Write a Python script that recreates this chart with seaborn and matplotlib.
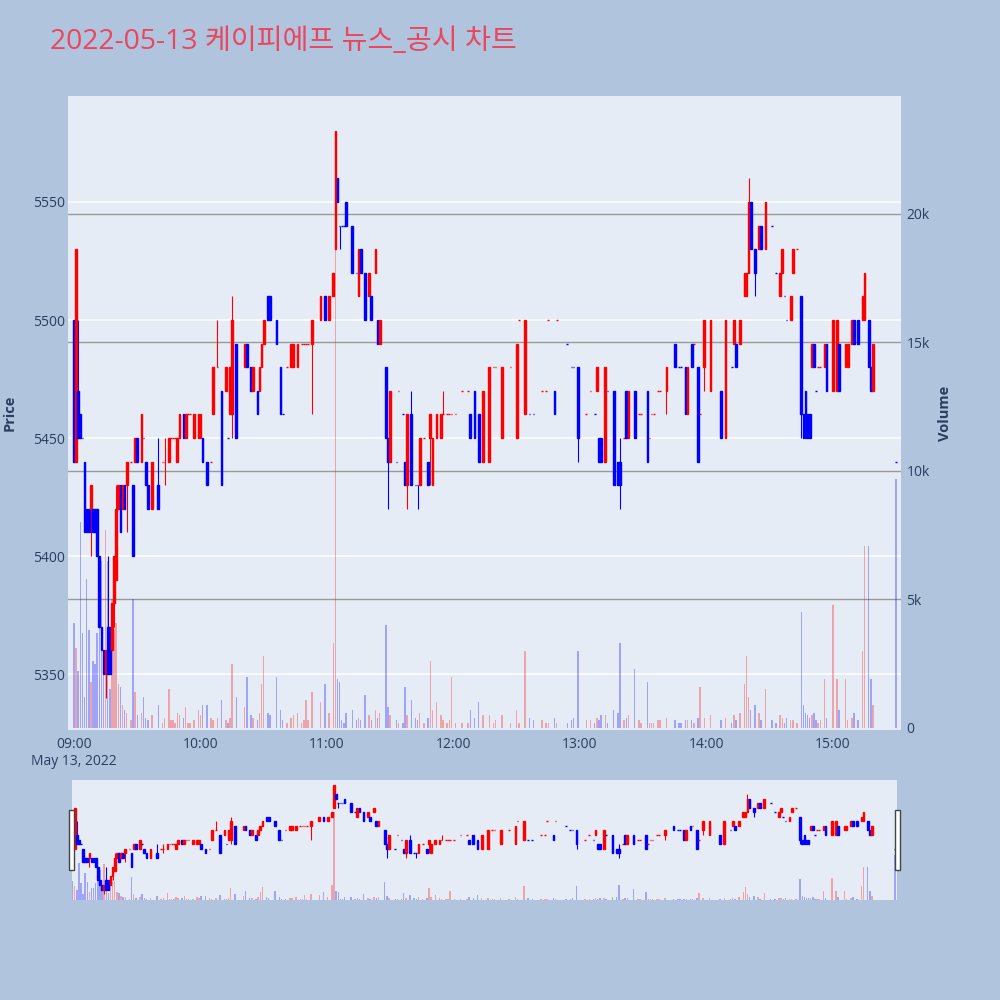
# 케이피에프 2022-05-13 1분봉 차트 (가격 + 거래량 + 레인지 슬라이더)

import matplotlib
matplotlib.use("Agg")
import matplotlib.pyplot as plt
import pandas as pd
import seaborn as sns
from matplotlib.patches import Rectangle
from matplotlib.ticker import FuncFormatter


# 09:00 기준 경과 분
minutes = [
    0, 1, 2, 3, 4, 5, 6, 7, 8, 9,
    10, 11, 12, 13, 14, 15, 16, 17, 18, 19,
    20, 21, 22, 23, 24, 25, 27, 28, 29, 30,
    32, 33, 34, 35, 37, 40, 42, 43, 45, 46,
    47, 48, 49, 50, 52, 53, 54, 55, 57, 59,
    60, 61, 63, 65, 66, 68, 70, 72, 73, 74,
    75, 77, 81, 82, 84, 85, 87, 88, 89, 90,
    92, 93, 96, 98, 99, 101, 103, 104, 106, 108,
    109, 110, 111, 113, 117, 119, 121, 123, 124, 125,
    126, 127, 128, 129, 132, 134, 135, 136, 138, 140,
    141, 143, 144, 145, 148, 149, 150, 153, 154, 156,
    157, 158, 160, 162, 163, 164, 166, 168, 169, 170,
    172, 174, 175, 177, 178, 179, 181, 184, 187, 188,
    190, 192, 194, 197, 199, 200, 203, 207, 210, 211,
    214, 216, 218, 222, 224, 225, 228, 229, 234, 236,
    237, 239, 243, 245, 247, 248, 249, 250, 252, 253,
    256, 258, 259, 261, 262, 263, 266, 268, 269, 272,
    273, 274, 275, 277, 278, 281, 285, 287, 288, 290,
    291, 293, 294, 296, 297, 299, 302, 307, 309, 312,
    313, 314, 316, 318, 319, 320, 321, 323, 325, 326,
    328, 331, 333, 335, 336, 337, 338, 340, 341, 343,
    345, 346, 347, 348, 349, 350, 351, 352, 353, 354,
    356, 357, 360, 362, 363, 366, 367, 369, 370, 372,
    374, 375, 377, 378, 379, 390,
]

opens = [
    5500, 5440, 5470, 5460, 5450, 5440, 5420, 5420, 5420, 5420,
    5420, 5420, 5400, 5370, 5360, 5350, 5370, 5370, 5360, 5380,
    5390, 5420, 5430, 5420, 5430, 5430, 5440, 5430, 5440, 5450,
    5440, 5450, 5440, 5430, 5420, 5430, 5440, 5440, 5440, 5450,
    5450, 5450, 5440, 5450, 5460, 5450, 5460, 5460, 5450, 5450,
    5450, 5450, 5440, 5440, 5460, 5480, 5470, 5470, 5450, 5460,
    5460, 5490, 5480, 5490, 5480, 5470, 5470, 5470, 5480, 5490,
    5510, 5510, 5500, 5480, 5460, 5480, 5480, 5480, 5480, 5490,
    5490, 5490, 5490, 5490, 5500, 5510, 5500, 5510, 5530, 5560,
    5540, 5540, 5540, 5550, 5540, 5520, 5510, 5530, 5520, 5510,
    5510, 5520, 5500, 5490, 5480, 5450, 5440, 5440, 5470, 5460,
    5440, 5430, 5460, 5430, 5430, 5430, 5450, 5440, 5450, 5430,
    5450, 5450, 5460, 5460, 5460, 5460, 5460, 5470, 5470, 5460,
    5470, 5460, 5440, 5440, 5480, 5480, 5450, 5480, 5450, 5500,
    5460, 5460, 5460, 5470, 5470, 5500, 5470, 5500, 5490, 5480,
    5480, 5480, 5460, 5470, 5460, 5470, 5450, 5450, 5440, 5470,
    5470, 5440, 5440, 5450, 5470, 5450, 5470, 5460, 5460, 5470,
    5450, 5460, 5460, 5470, 5470, 5470, 5490, 5480, 5480, 5480,
    5460, 5490, 5490, 5480, 5460, 5480, 5470, 5470, 5450, 5480,
    5490, 5490, 5490, 5510, 5510, 5520, 5550, 5530, 5530, 5540,
    5530, 5540, 5520, 5510, 5520, 5510, 5500, 5500, 5520, 5530,
    5510, 5460, 5470, 5460, 5460, 5480, 5490, 5470, 5480, 5480,
    5480, 5490, 5470, 5470, 5490, 5480, 5480, 5490, 5500, 5500,
    5500, 5500, 5500, 5480, 5470, 5440,
]

highs = [
    5500, 5530, 5500, 5460, 5450, 5440, 5420, 5420, 5430, 5420,
    5420, 5420, 5400, 5370, 5360, 5360, 5400, 5370, 5380, 5400,
    5430, 5430, 5430, 5430, 5430, 5440, 5440, 5430, 5450, 5450,
    5460, 5450, 5440, 5430, 5440, 5450, 5440, 5450, 5450, 5450,
    5450, 5450, 5450, 5460, 5460, 5460, 5460, 5460, 5460, 5460,
    5460, 5450, 5440, 5440, 5480, 5500, 5470, 5480, 5450, 5480,
    5510, 5490, 5490, 5490, 5480, 5480, 5470, 5480, 5490, 5500,
    5510, 5510, 5500, 5480, 5460, 5480, 5490, 5490, 5490, 5490,
    5490, 5490, 5490, 5500, 5510, 5510, 5510, 5520, 5580, 5560,
    5540, 5540, 5540, 5550, 5540, 5520, 5530, 5530, 5520, 5520,
    5510, 5530, 5500, 5500, 5480, 5450, 5470, 5440, 5470, 5460,
    5440, 5460, 5470, 5430, 5430, 5450, 5450, 5440, 5460, 5450,
    5460, 5460, 5470, 5460, 5460, 5460, 5460, 5470, 5470, 5460,
    5470, 5460, 5470, 5480, 5480, 5480, 5480, 5480, 5490, 5500,
    5500, 5460, 5460, 5470, 5470, 5500, 5470, 5500, 5490, 5480,
    5480, 5480, 5460, 5470, 5460, 5480, 5450, 5450, 5480, 5470,
    5470, 5440, 5450, 5450, 5470, 5470, 5470, 5460, 5460, 5470,
    5450, 5460, 5460, 5470, 5470, 5480, 5490, 5480, 5480, 5480,
    5480, 5490, 5490, 5480, 5460, 5500, 5500, 5470, 5500, 5480,
    5500, 5490, 5500, 5520, 5520, 5560, 5550, 5530, 5540, 5540,
    5550, 5540, 5520, 5520, 5530, 5510, 5500, 5510, 5530, 5530,
    5510, 5460, 5470, 5460, 5460, 5490, 5490, 5470, 5480, 5480,
    5490, 5490, 5500, 5500, 5490, 5490, 5490, 5500, 5500, 5500,
    5510, 5520, 5500, 5480, 5490, 5440,
]

lows = [
    5440, 5440, 5450, 5450, 5450, 5410, 5410, 5410, 5400, 5410,
    5410, 5400, 5370, 5360, 5350, 5340, 5350, 5350, 5360, 5370,
    5390, 5420, 5410, 5420, 5420, 5410, 5440, 5400, 5440, 5440,
    5440, 5450, 5430, 5420, 5420, 5420, 5440, 5430, 5440, 5450,
    5450, 5450, 5440, 5450, 5450, 5450, 5460, 5460, 5450, 5450,
    5450, 5440, 5430, 5440, 5460, 5480, 5430, 5470, 5450, 5460,
    5450, 5450, 5480, 5480, 5470, 5470, 5460, 5470, 5480, 5490,
    5500, 5500, 5490, 5460, 5460, 5480, 5480, 5480, 5480, 5490,
    5490, 5490, 5490, 5460, 5500, 5500, 5500, 5510, 5530, 5550,
    5530, 5540, 5540, 5540, 5520, 5520, 5510, 5520, 5500, 5510,
    5500, 5520, 5490, 5490, 5450, 5420, 5440, 5440, 5470, 5460,
    5430, 5420, 5430, 5430, 5420, 5430, 5450, 5430, 5430, 5430,
    5450, 5450, 5460, 5460, 5460, 5460, 5460, 5470, 5470, 5450,
    5450, 5440, 5440, 5440, 5480, 5480, 5450, 5480, 5450, 5500,
    5460, 5460, 5460, 5470, 5470, 5500, 5460, 5500, 5490, 5480,
    5480, 5440, 5460, 5470, 5460, 5470, 5440, 5440, 5440, 5470,
    5430, 5430, 5420, 5450, 5450, 5450, 5450, 5460, 5460, 5440,
    5450, 5460, 5460, 5470, 5470, 5460, 5480, 5480, 5480, 5460,
    5460, 5480, 5490, 5440, 5460, 5470, 5470, 5450, 5450, 5480,
    5490, 5480, 5490, 5510, 5510, 5520, 5530, 5510, 5530, 5530,
    5530, 5540, 5520, 5510, 5520, 5510, 5500, 5500, 5520, 5530,
    5450, 5450, 5450, 5450, 5450, 5480, 5480, 5470, 5480, 5480,
    5480, 5470, 5470, 5470, 5470, 5480, 5480, 5490, 5490, 5490,
    5500, 5500, 5480, 5470, 5470, 5440,
]

closes = [
    5440, 5530, 5450, 5450, 5450, 5410, 5410, 5410, 5430, 5410,
    5410, 5400, 5370, 5360, 5350, 5360, 5350, 5350, 5380, 5400,
    5420, 5430, 5410, 5430, 5420, 5440, 5440, 5400, 5450, 5440,
    5460, 5450, 5430, 5420, 5440, 5420, 5440, 5440, 5450, 5450,
    5450, 5450, 5450, 5460, 5450, 5460, 5460, 5460, 5460, 5460,
    5460, 5440, 5430, 5440, 5480, 5480, 5430, 5480, 5450, 5480,
    5500, 5450, 5490, 5480, 5470, 5480, 5460, 5480, 5490, 5500,
    5500, 5500, 5490, 5460, 5460, 5480, 5490, 5490, 5490, 5490,
    5490, 5490, 5490, 5500, 5510, 5500, 5510, 5520, 5580, 5550,
    5540, 5540, 5540, 5540, 5520, 5520, 5530, 5520, 5500, 5520,
    5500, 5530, 5490, 5500, 5450, 5440, 5470, 5440, 5470, 5460,
    5430, 5460, 5430, 5430, 5430, 5450, 5450, 5430, 5460, 5450,
    5460, 5460, 5460, 5460, 5460, 5460, 5460, 5470, 5470, 5450,
    5450, 5440, 5470, 5480, 5480, 5480, 5480, 5480, 5490, 5500,
    5500, 5460, 5460, 5470, 5470, 5500, 5460, 5500, 5490, 5480,
    5480, 5450, 5460, 5470, 5460, 5480, 5440, 5440, 5480, 5470,
    5430, 5430, 5430, 5450, 5450, 5470, 5450, 5460, 5460, 5440,
    5450, 5460, 5460, 5470, 5470, 5480, 5480, 5480, 5480, 5460,
    5480, 5480, 5490, 5440, 5460, 5500, 5500, 5450, 5500, 5480,
    5500, 5480, 5500, 5520, 5520, 5550, 5530, 5520, 5540, 5530,
    5550, 5540, 5520, 5520, 5530, 5510, 5500, 5510, 5530, 5530,
    5460, 5450, 5450, 5450, 5450, 5490, 5480, 5470, 5480, 5480,
    5490, 5470, 5500, 5500, 5470, 5490, 5490, 5500, 5490, 5490,
    5510, 5520, 5480, 5470, 5490, 5440,
]

volumes = [
    4100, 3100, 2200, 8000, 3700, 1200, 5800, 3800, 1800, 2600,
    2500, 3700, 4200, 6500, 2400, 7700, 6500, 1500, 5000, 3800,
    4100, 1700, 1600, 900, 700, 600, 300, 5000, 1400, 500,
    600, 1200, 400, 300, 500, 900, 200, 400, 1500, 300,
    300, 200, 600, 500, 400, 800, 200, 200, 300, 700,
    500, 900, 900, 400, 300, 400, 1100, 300, 200, 400,
    2500, 1200, 800, 2000, 500, 400, 300, 600, 1700, 2800,
    600, 500, 2000, 700, 300, 200, 400, 500, 600, 200,
    300, 1100, 300, 1400, 1000, 1700, 600, 3300, 19000, 1900,
    1800, 300, 200, 600, 700, 300, 400, 300, 1300, 500,
    300, 700, 400, 600, 4000, 800, 500, 300, 200, 200,
    1600, 500, 1100, 400, 300, 600, 200, 400, 2600, 700,
    1000, 500, 300, 200, 300, 2000, 200, 200, 200, 700,
    400, 1000, 500, 500, 200, 300, 500, 200, 700, 200,
    3000, 400, 300, 300, 200, 200, 400, 200, 200, 300,
    400, 3000, 300, 300, 200, 400, 300, 500, 500, 200,
    700, 600, 3300, 300, 400, 500, 2300, 300, 200, 1800,
    200, 200, 200, 300, 300, 400, 300, 200, 200, 300,
    300, 300, 200, 400, 1600, 400, 500, 300, 400, 200,
    500, 300, 600, 1700, 2800, 1200, 700, 900, 600, 300,
    1500, 300, 200, 500, 400, 200, 400, 300, 300, 200,
    4500, 900, 600, 500, 400, 500, 600, 300, 200, 300,
    1900, 400, 4800, 1900, 700, 1900, 300, 400, 600, 300,
    3000, 7100, 7100, 1900, 900, 9700,
]

hour_ticks = [0, 60, 120, 180, 240, 300, 360]
hour_labels = ["09:00\nMay 13, 2022", "10:00", "11:00", "12:00", "13:00", "14:00", "15:00"]
price_ticks = [5350, 5400, 5450, 5500, 5550]
volume_ticks = [0, 5000, 10000, 15000, 20000]

assert len({len(minutes), len(opens), len(highs), len(lows), len(closes), len(volumes)}) == 1

df = pd.DataFrame({
    "minute": minutes, "open": opens, "high": highs,
    "low": lows, "close": closes, "volume": volumes,
})

# 상승/하락 판정 (시가=종가일 때는 직전 종가와 비교)
directions = []
prev_close, prev_up = None, False
for o, c in zip(opens, closes):
    if c != o:
        up = c > o
    elif prev_close is not None and c != prev_close:
        up = c > prev_close
    else:
        up = prev_up
    directions.append("up" if up else "down")
    prev_close, prev_up = c, up
df["direction"] = directions

palette = {"up": "#FF0000", "down": "#0000FF"}
TEXT = "#2a3f5f"
PLOT_BG = "#E5ECF6"
PAPER_BG = "#B0C4DE"

sns.set_style("darkgrid")
plt.rcParams["font.family"] = ["Open Sans", "Noto Sans CJK KR", "DejaVu Sans"]
plt.rcParams["axes.unicode_minus"] = False


def draw_candles(ax_vol, ax_price, x_range, price_range, vol_range):
    sns.histplot(data=df, x="minute", weights="volume", hue="direction",
                 hue_order=["up", "down"], palette=palette, discrete=True,
                 shrink=0.7, alpha=0.3, linewidth=0, legend=False, ax=ax_vol)
    colors = df["direction"].map(palette).tolist()
    ax_price.vlines(df["minute"], df["low"], df["high"], colors=colors, lw=0.8, zorder=3)
    ax_price.bar(df["minute"], (df["close"] - df["open"]).abs(),
                 bottom=df[["open", "close"]].min(axis=1), width=0.8,
                 color=colors, edgecolor=colors, linewidth=1.0, zorder=4)
    ax_vol.set_xlim(*x_range)
    ax_vol.set_ylim(*vol_range)
    ax_price.set_ylim(*price_range)
    ax_vol.set_xlabel("")
    ax_vol.set_ylabel("")
    ax_price.set_ylabel("")
    ax_vol.grid(False)
    ax_price.grid(False)
    for a in (ax_vol, ax_price):
        for s in a.spines.values():
            s.set_visible(False)


fig = plt.figure(figsize=(10, 10), dpi=100, facecolor=PAPER_BG)

# 메인 차트
X_RANGE = (-2.85, 392.3)
PRICE_RANGE = (5326.3, 5594.9)
VOL_RANGE = (-78, 24590)

ax_vol = fig.add_axes([0.068, 0.270, 0.833, 0.634])
ax_vol.set_facecolor(PLOT_BG)
ax_price = ax_vol.twinx()
draw_candles(ax_vol, ax_price, X_RANGE, PRICE_RANGE, VOL_RANGE)

# 격자선: 가격(흰색), 거래량(회색) 모두 막대 아래에
for p in price_ticks:
    frac = (p - PRICE_RANGE[0]) / (PRICE_RANGE[1] - PRICE_RANGE[0])
    ax_vol.axhline(VOL_RANGE[0] + frac * (VOL_RANGE[1] - VOL_RANGE[0]),
                   color="white", lw=1.1, zorder=0.6)
for v in volume_ticks[1:]:
    ax_vol.axhline(v, color="#9a9a9a", lw=1.0, zorder=0.7)

ax_price.yaxis.tick_left()
ax_price.set_yticks(price_ticks)
ax_price.tick_params(axis="y", length=0, pad=2, labelsize=10, labelcolor=TEXT)

ax_vol.yaxis.tick_right()
ax_vol.set_yticks(volume_ticks)
ax_vol.yaxis.set_major_formatter(FuncFormatter(lambda v, _: "0" if v == 0 else f"{v / 1000:.0f}k"))
ax_vol.tick_params(axis="y", length=0, pad=4, labelsize=10, labelcolor=TEXT)
ax_vol.set_xticks(hour_ticks, hour_labels)
ax_vol.tick_params(axis="x", length=0, pad=5, labelsize=10, labelcolor=TEXT)

fig.text(0.010, 0.587, "Price", rotation=90, ha="center", va="center",
         fontsize=10.5, fontweight="bold", color=TEXT)
fig.text(0.945, 0.587, "Volume", rotation=90, ha="center", va="center",
         fontsize=10.5, fontweight="bold", color=TEXT)
fig.text(0.050, 0.958, "2022-05-13 케이피에프 뉴스_공시 차트", ha="left", va="center",
         fontsize=20.3, color="#E8475F")

# 레인지 슬라이더
sl_vol = fig.add_axes([0.0715, 0.100, 0.8255, 0.120])
sl_vol.set_facecolor(PLOT_BG)
sl_price = sl_vol.twinx()
draw_candles(sl_vol, sl_price, (-0.5, 390.9), (5327, 5591), (0, 26000))
for a in (sl_vol, sl_price):
    a.set_xticks([])
    a.set_yticks([])

for x0 in (0.069, 0.895):
    fig.add_artist(Rectangle((x0, 0.130), 0.005, 0.060, transform=fig.transFigure,
                             facecolor="white", edgecolor="#444444", lw=1))

fig.savefig("out.png", dpi=100, facecolor=PAPER_BG)
